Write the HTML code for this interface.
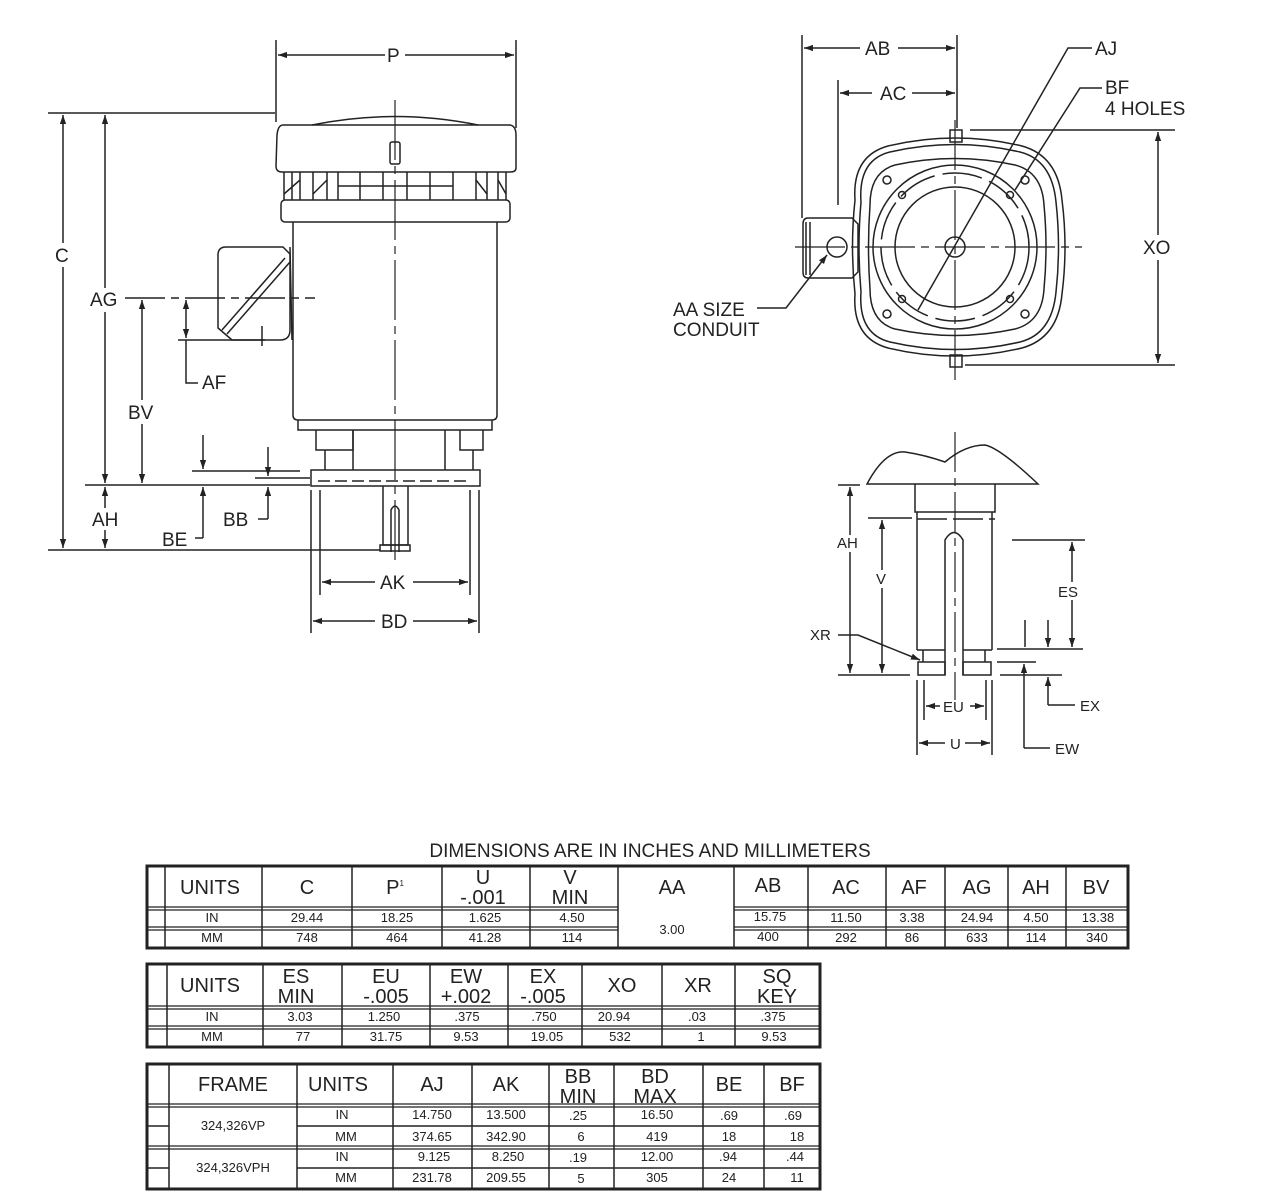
<!DOCTYPE html>
<html><head><meta charset="utf-8"><style>
body{margin:0;background:#fff;}
svg{display:block;font-family:"Liberation Sans",Arial,sans-serif;}
.t{font-size:19px;fill:#222;}
.s{font-size:15px;fill:#222;}
</style></head><body>
<svg width="1280" height="1204" viewBox="0 0 1280 1204" xmlns="http://www.w3.org/2000/svg">
<defs>
<marker id="a" viewBox="0 0 10 10" refX="10" refY="5" markerWidth="9" markerHeight="6" orient="auto-start-reverse"><path d="M0,1.5L10,5L0,8.5z" fill="#222"/></marker>
</defs>
<g stroke="#222" stroke-width="1.5" fill="none">
<path d="M312,125 Q395,108 478,125"/>
<path d="M283,125 L510,125 Q516,126 516,135 L516,168 Q516,172 510,172 L282,172 Q276,172 276,166 L277,135 Q278,125 283,125z"/>
<rect x="390" y="142" width="10" height="22" rx="2"/>
<path d="M284,172 L284,200 M506,172 L506,200"/>
<path d="M292,172v28M300,172v28M313,172v28M327,172v28M338,172v28M360,172v28M383,172v28M407,172v28M430,172v28M453,172v28M476,172v28M487,172v28M498,172v28"/>
<path d="M338,186H453M284,194L300,180M313,194L327,180M476,180L487,194M498,180L506,194"/>
<rect x="281" y="200" width="229" height="22" rx="4"/>
<path d="M293,222 L293,415 Q293,420 298,420 L492,420 Q497,420 497,415 L497,222"/>
<path d="M298,420 L298,430 L492,430 L492,420"/>
<path d="M316,430 L316,450 L353,450 L353,430 M325,450V470 M460,430 L460,450 L483,450 L483,430 M473,450V470"/>
<path d="M353,430 L353,470 M445,430 L445,470"/>
<path d="M311,470 L480,470 L480,486 L311,486z"/>
<path d="M318,481H470" stroke-dasharray="12,5"/>
<path d="M383,486 L383,545 L408,545 L408,486"/>
<path d="M380,545h30v6h-30z"/>
<path d="M391,552 L391,510 Q395,502 399,510 L399,552"/>
<path d="M226,247 L283,247 L290,254 L290,330 Q290,340 280,340 L232,340 L218,328 L218,255 Q218,247 226,247z"/>
<path d="M290,247 L292,340"/>
<path d="M285,258 L222,330 M290,262 L227,334"/>
<path d="M262,326V346"/>
<path d="M395,100 V560" stroke-width="1.2" stroke-dasharray="60,6,8,6"/>
<path d="M125,298 H315" stroke-dasharray="40,6,8,6"/>
<path d="M276,40V122 M516,40V128"/>
<path d="M278,55H385 M405,55H514" marker-start="url(#a)" marker-end="url(#a)"/>
<path d="M48,113H275 M48,550H380"/>
<path d="M63,115V243 M63,267V548" marker-start="url(#a)" marker-end="url(#a)"/>
<path d="M105,115V288 M105,312V483" marker-start="url(#a)" marker-end="url(#a)"/>
<path d="M105,487V508 M105,530V548" marker-start="url(#a)" marker-end="url(#a)"/>
<path d="M142,300V400 M142,424V483" marker-start="url(#a)" marker-end="url(#a)"/>
<path d="M85,485H310"/>
<path d="M178,340H265"/>
<path d="M186,300V338" marker-start="url(#a)" marker-end="url(#a)"/>
<path d="M186,340V383H198"/>
<path d="M192,471H300"/>
<path d="M203,435V469" marker-end="url(#a)"/>
<path d="M203,538V487" marker-end="url(#a)"/>
<path d="M203,538H195"/>
<path d="M255,478H310"/>
<path d="M268,447V476" marker-end="url(#a)"/>
<path d="M268,519V487" marker-end="url(#a)"/>
<path d="M268,519H258"/>
<path d="M320,490V595 M470,490V595 M311,490V633 M479,490V633"/>
<path d="M322,582H375 M413,582H468" marker-start="url(#a)" marker-end="url(#a)"/>
<path d="M313,621H375 M413,621H477" marker-start="url(#a)" marker-end="url(#a)"/>
<path d="M950,130h12v12h-12z M950,355h12v12h-12z"/>
<path d="M888,146 Q955,130 1022,146 Q1058,156 1062,200 Q1068,247 1062,294 Q1058,338 1022,348 Q955,364 888,348 Q852,338 855,294 Q850,247 855,200 Q852,156 888,146z"/>
<path d="M890,152 Q955,137 1020,152 Q1052,160 1056,202 Q1061,247 1056,292 Q1052,334 1020,342 Q955,357 890,342 Q858,334 861,292 Q857,247 861,202 Q858,160 890,152z"/>
<path d="M895,165 Q955,152 1015,165 Q1042,172 1044,205 Q1048,247 1044,289 Q1042,322 1015,329 Q955,342 895,329 Q870,322 870,289 Q867,247 870,205 Q870,172 895,165z"/>
<circle cx="955" cy="247" r="82"/>
<circle cx="955" cy="247" r="74" stroke-dasharray="40,8"/>
<circle cx="955" cy="247" r="60"/>
<circle cx="955" cy="247" r="10"/>
<circle cx="887" cy="180" r="4"/><circle cx="1025" cy="180" r="4"/><circle cx="887" cy="314" r="4"/><circle cx="1025" cy="314" r="4"/>
<circle cx="902" cy="195" r="3.5"/><circle cx="1010" cy="195" r="3.5"/><circle cx="902" cy="299" r="3.5"/><circle cx="1010" cy="299" r="3.5"/>
<path d="M955,120V380 M795,247H1082" stroke-width="1.2" stroke-dasharray="50,6,8,6"/>
<path d="M808,218 L852,218 L858,224 L858,272 L852,278 L808,278 Q803,278 803,272 L803,224 Q803,218 808,218z"/>
<path d="M806,222V275 M810,222V275"/>
<circle cx="837" cy="247" r="10"/>
<path d="M802,35V218 M957,35V128 M838,80V205"/>
<path d="M804,48H860 M898,48H955" marker-start="url(#a)" marker-end="url(#a)"/>
<path d="M840,93H872 M912,93H955" marker-start="url(#a)" marker-end="url(#a)"/>
<path d="M970,130H1175 M965,365H1175"/>
<path d="M1158,132V235 M1158,260V363" marker-start="url(#a)" marker-end="url(#a)"/>
<path d="M1092,48H1068 L918,310"/>
<path d="M1102,88H1080 L1015,190"/>
<path d="M757,308H786 L827,255" marker-end="url(#a)"/>
<path d="M867,484 Q885,450 905,452 Q925,455 945,462 Q965,445 985,445 Q1000,448 1038,484 Z"/>
<path d="M915,484V512H995V484"/>
<path d="M917,512V650 M992,512V650"/>
<path d="M917,519H995" stroke-dasharray="30,6"/>
<path d="M923,650V662 M985,650V662 M917,650H945 M963,650H992"/>
<path d="M918,662h27v13h-27z M963,662h28v13h-28z"/>
<path d="M945,675V540 Q954,525 963,540 V675"/>
<path d="M955,432V700" stroke-width="1.2" stroke-dasharray="40,6,8,6"/>
<path d="M838,485H860 M868,518H912 M1012,540H1085"/>
<path d="M850,487V535 M850,552V673" marker-start="url(#a)" marker-end="url(#a)"/>
<path d="M882,520V570 M882,588V673" marker-start="url(#a)" marker-end="url(#a)"/>
<path d="M838,675H910 M1000,675H1062"/>
<path d="M1072,542V582 M1072,600V647" marker-start="url(#a)" marker-end="url(#a)"/>
<path d="M997,649H1083 M997,662H1036"/>
<path d="M1025,620V647 M1048,620V647" marker-end="url(#a)"/>
<path d="M1048,705V677" marker-end="url(#a)"/>
<path d="M1048,705H1075"/>
<path d="M1024,748V664" marker-end="url(#a)"/>
<path d="M1024,748H1050"/>
<path d="M838,635H858 L920,660" marker-end="url(#a)"/>
<path d="M924,680V720 M986,680V720 M917,680V755 M992,680V755"/>
<path d="M926,706H940 M970,706H984" marker-start="url(#a)" marker-end="url(#a)"/>
<path d="M919,743H945 M965,743H990" marker-start="url(#a)" marker-end="url(#a)"/>
</g>
<g class="t">
<text x="387" y="62">P</text>
<text x="55" y="262">C</text>
<text x="90" y="306">AG</text>
<text x="128" y="419">BV</text>
<text x="202" y="389">AF</text>
<text x="92" y="526">AH</text>
<text x="223" y="526">BB</text>
<text x="162" y="546">BE</text>
<text x="380" y="589">AK</text>
<text x="381" y="628">BD</text>
<text x="865" y="55">AB</text>
<text x="880" y="100">AC</text>
<text x="1095" y="55">AJ</text>
<text x="1105" y="94">BF</text>
<text x="1105" y="115">4 HOLES</text>
<text x="1143" y="254">XO</text>
<text x="673" y="316">AA SIZE</text>
<text x="673" y="336">CONDUIT</text>
</g>
<g class="s">
<text x="837" y="548">AH</text>
<text x="876" y="584">V</text>
<text x="1058" y="597">ES</text>
<text x="810" y="640">XR</text>
<text x="943" y="712">EU</text>
<text x="950" y="749">U</text>
<text x="1080" y="711">EX</text>
<text x="1055" y="754">EW</text>
</g>
<text x="650" y="857" text-anchor="middle" style="font-size:19px" fill="#222">DIMENSIONS ARE IN INCHES AND MILLIMETERS</text>
<g stroke="#222" fill="none">
<rect x="147" y="866" width="981" height="82" stroke-width="3"/>
<path d="M165,866V948 M262,866V948 M352,866V948 M442,866V948 M530,866V948 M618,866V948 M734,866V948 M808,866V948 M886,866V948 M945,866V948 M1008,866V948 M1066,866V948" stroke-width="1.5"/>
<path d="M147,907H618 M734,907H1128 M147,910H618 M734,910H1128" stroke-width="1.2"/>
<path d="M147,927H618 M734,927H1128 M147,930H618 M734,930H1128" stroke-width="1.2"/>
<rect x="147" y="964" width="673" height="83" stroke-width="3"/>
<path d="M167,964V1047 M263,964V1047 M342,964V1047 M430,964V1047 M508,964V1047 M582,964V1047 M662,964V1047 M735,964V1047" stroke-width="1.5"/>
<path d="M147,1006H820 M147,1009H820 M147,1026H820 M147,1029H820" stroke-width="1.2"/>
<rect x="147" y="1064" width="673" height="125" stroke-width="3"/>
<path d="M169,1064V1189 M297,1064V1189 M393,1064V1189 M472,1064V1189 M549,1064V1189 M614,1064V1189 M703,1064V1189 M764,1064V1189" stroke-width="1.5"/>
<path d="M147,1104H820 M147,1107H820 M147,1146H820 M147,1149H820" stroke-width="1.2"/>
<path d="M147,1126H169 M297,1126H820 M147,1168H169 M297,1168H820" stroke-width="1.5"/>
</g>
<g style="font-size:20px" fill="#222" text-anchor="middle">
<text x="210" y="894">UNITS</text><text x="307" y="894">C</text><text x="395" y="894">P<tspan style="font-size:8px" dy="-8">1</tspan></text>
<text x="483" y="884">U</text><text x="483" y="904">-.001</text>
<text x="570" y="884">V</text><text x="570" y="904">MIN</text>
<text x="672" y="894">AA</text><text x="768" y="892">AB</text><text x="846" y="894">AC</text><text x="914" y="894">AF</text><text x="977" y="894">AG</text><text x="1036" y="894">AH</text><text x="1096" y="894">BV</text>
<text x="210" y="992">UNITS</text>
<text x="296" y="983">ES</text><text x="296" y="1003">MIN</text>
<text x="386" y="983">EU</text><text x="386" y="1003">-.005</text>
<text x="466" y="983">EW</text><text x="466" y="1003">+.002</text>
<text x="543" y="983">EX</text><text x="543" y="1003">-.005</text>
<text x="622" y="992">XO</text><text x="698" y="992">XR</text>
<text x="777" y="983">SQ</text><text x="777" y="1003">KEY</text>
<text x="233" y="1091">FRAME</text><text x="338" y="1091">UNITS</text><text x="432" y="1091">AJ</text><text x="506" y="1091">AK</text>
<text x="578" y="1083">BB</text><text x="578" y="1103">MIN</text>
<text x="655" y="1083">BD</text><text x="655" y="1103">MAX</text>
<text x="729" y="1091">BE</text><text x="792" y="1091">BF</text>
</g>
<g style="font-size:13px" fill="#222" text-anchor="middle">
<text x="212" y="922">IN</text><text x="307" y="922">29.44</text><text x="397" y="922">18.25</text><text x="485" y="922">1.625</text><text x="572" y="922">4.50</text>
<text x="672" y="934">3.00</text><text x="770" y="921">15.75</text><text x="846" y="922">11.50</text><text x="912" y="922">3.38</text><text x="977" y="922">24.94</text><text x="1036" y="922">4.50</text><text x="1098" y="922">13.38</text>
<text x="212" y="942">MM</text><text x="307" y="942">748</text><text x="397" y="942">464</text><text x="485" y="942">41.28</text><text x="572" y="942">114</text>
<text x="768" y="941">400</text><text x="846" y="942">292</text><text x="912" y="942">86</text><text x="977" y="942">633</text><text x="1036" y="942">114</text><text x="1097" y="942">340</text>
<text x="212" y="1021">IN</text><text x="300" y="1021">3.03</text><text x="384" y="1021">1.250</text><text x="467" y="1021">.375</text><text x="544" y="1021">.750</text><text x="614" y="1021">20.94</text><text x="697" y="1021">.03</text><text x="773" y="1021">.375</text>
<text x="212" y="1041">MM</text><text x="303" y="1041">77</text><text x="386" y="1041">31.75</text><text x="466" y="1041">9.53</text><text x="547" y="1041">19.05</text><text x="620" y="1041">532</text><text x="701" y="1041">1</text><text x="774" y="1041">9.53</text>
<text x="233" y="1130">324,326VP</text><text x="233" y="1172">324,326VPH</text>
<text x="342" y="1119">IN</text><text x="432" y="1119">14.750</text><text x="506" y="1119">13.500</text><text x="578" y="1120">.25</text><text x="657" y="1119">16.50</text><text x="729" y="1120">.69</text><text x="793" y="1120">.69</text>
<text x="346" y="1141">MM</text><text x="432" y="1141">374.65</text><text x="506" y="1141">342.90</text><text x="581" y="1141">6</text><text x="657" y="1141">419</text><text x="729" y="1141">18</text><text x="797" y="1141">18</text>
<text x="342" y="1161">IN</text><text x="434" y="1161">9.125</text><text x="508" y="1161">8.250</text><text x="578" y="1162">.19</text><text x="657" y="1161">12.00</text><text x="728" y="1161">.94</text><text x="795" y="1161">.44</text>
<text x="346" y="1182">MM</text><text x="432" y="1182">231.78</text><text x="506" y="1182">209.55</text><text x="581" y="1183">5</text><text x="657" y="1182">305</text><text x="729" y="1182">24</text><text x="797" y="1182">11</text>
</g>
</svg>
</body></html>
